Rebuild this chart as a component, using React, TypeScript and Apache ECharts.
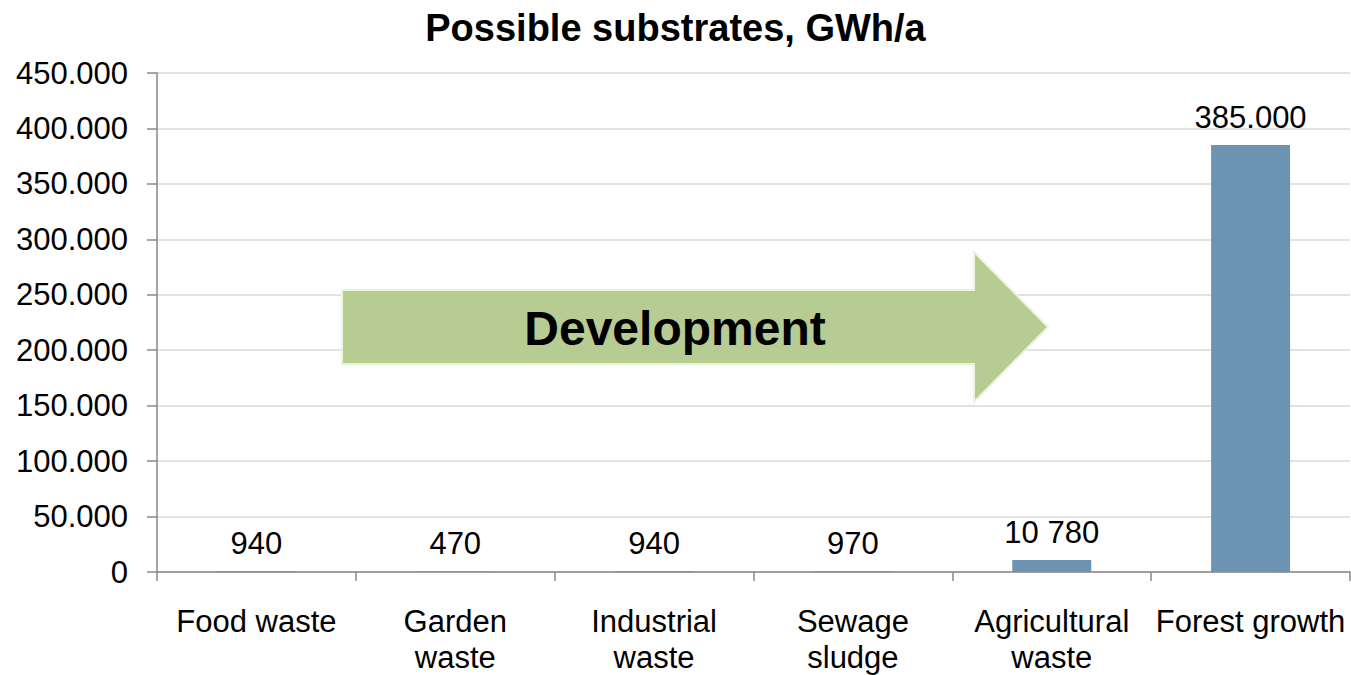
import React, { useEffect, useRef } from "react";
import * as echarts from "echarts";

const categories = [
  "Food waste",
  "Garden\nwaste",
  "Industrial\nwaste",
  "Sewage\nsludge",
  "Agricultural\nwaste",
  "Forest growth",
];
const values = [940, 470, 940, 970, 10780, 385000];
const valueLabels = ["940", "470", "940", "970", "10 780", "385.000"];
const yTicks = [0, 50000, 100000, 150000, 200000, 250000, 300000, 350000, 400000, 450000];
const titleText = "Possible substrates, GWh/a";
const arrowText = "Development";

const FONT = "'Liberation Sans', Arial, sans-serif";

export default function App() {
  const ref = useRef<HTMLDivElement>(null);
  useEffect(() => {
    document.body.style.margin = "0";
    const chart = echarts.init(ref.current!, null, { renderer: "svg" });
    chart.setOption({
      animation: false,
      backgroundColor: "#ffffff",
      title: {
        text: titleText,
        left: "center",
        top: 4,
        textStyle: { fontFamily: FONT, fontSize: 38, fontWeight: "bold", color: "#000" },
      },
      grid: { left: 157, right: 1, top: 73, bottom: 100, containLabel: false },
      xAxis: {
        type: "category",
        data: categories,
        axisLine: { lineStyle: { color: "#888888", width: 1.5 } },
        axisTick: { show: true, length: 9, lineStyle: { color: "#888888", width: 1.5 } },
        axisLabel: {
          fontFamily: FONT,
          fontSize: 31,
          color: "#000",
          margin: 31,
          lineHeight: 36,
          interval: 0,
        },
      },
      yAxis: {
        type: "value",
        min: yTicks[0],
        max: yTicks[yTicks.length - 1],
        interval: yTicks[1] - yTicks[0],
        axisLine: { show: true, lineStyle: { color: "#888888", width: 1.5 } },
        axisTick: { show: true, length: 10, lineStyle: { color: "#888888", width: 1.5 } },
        splitLine: { lineStyle: { color: "#d9d9d9", width: 1.5 } },
        axisLabel: {
          fontFamily: FONT,
          fontSize: 31,
          color: "#000",
          margin: 29,
          formatter: (v: number) => (v === 0 ? "0" : v / 1000 + ".000"),
        },
      },
      series: [
        {
          type: "bar",
          data: values,
          barWidth: 79,
          itemStyle: { color: "#6d95b3" },
          label: {
            show: true,
            position: "top",
            distance: 12,
            fontFamily: FONT,
            fontSize: 31,
            color: "#000",
            formatter: (p: any) => valueLabels[p.dataIndex],
          },
        },
      ],
      graphic: [
        {
          type: "polygon",
          shape: {
            points: [
              [342, 290],
              [974, 290],
              [974, 252],
              [1048, 327],
              [974, 402],
              [974, 364],
              [342, 364],
            ],
          },
          style: { fill: "#b6cc92", stroke: "#eaf5d9", lineWidth: 2 },
          z: 10,
        },
        {
          type: "text",
          x: 675,
          y: 328,
          style: {
            text: arrowText,
            fontFamily: FONT,
            fontSize: 48,
            fontWeight: "bold",
            fill: "#000",
            align: "center",
            verticalAlign: "middle",
          },
          z: 11,
        },
      ],
    });
    return () => chart.dispose();
  }, []);
  return <div ref={ref} style={{ width: 1351, height: 675 }} />;
}
